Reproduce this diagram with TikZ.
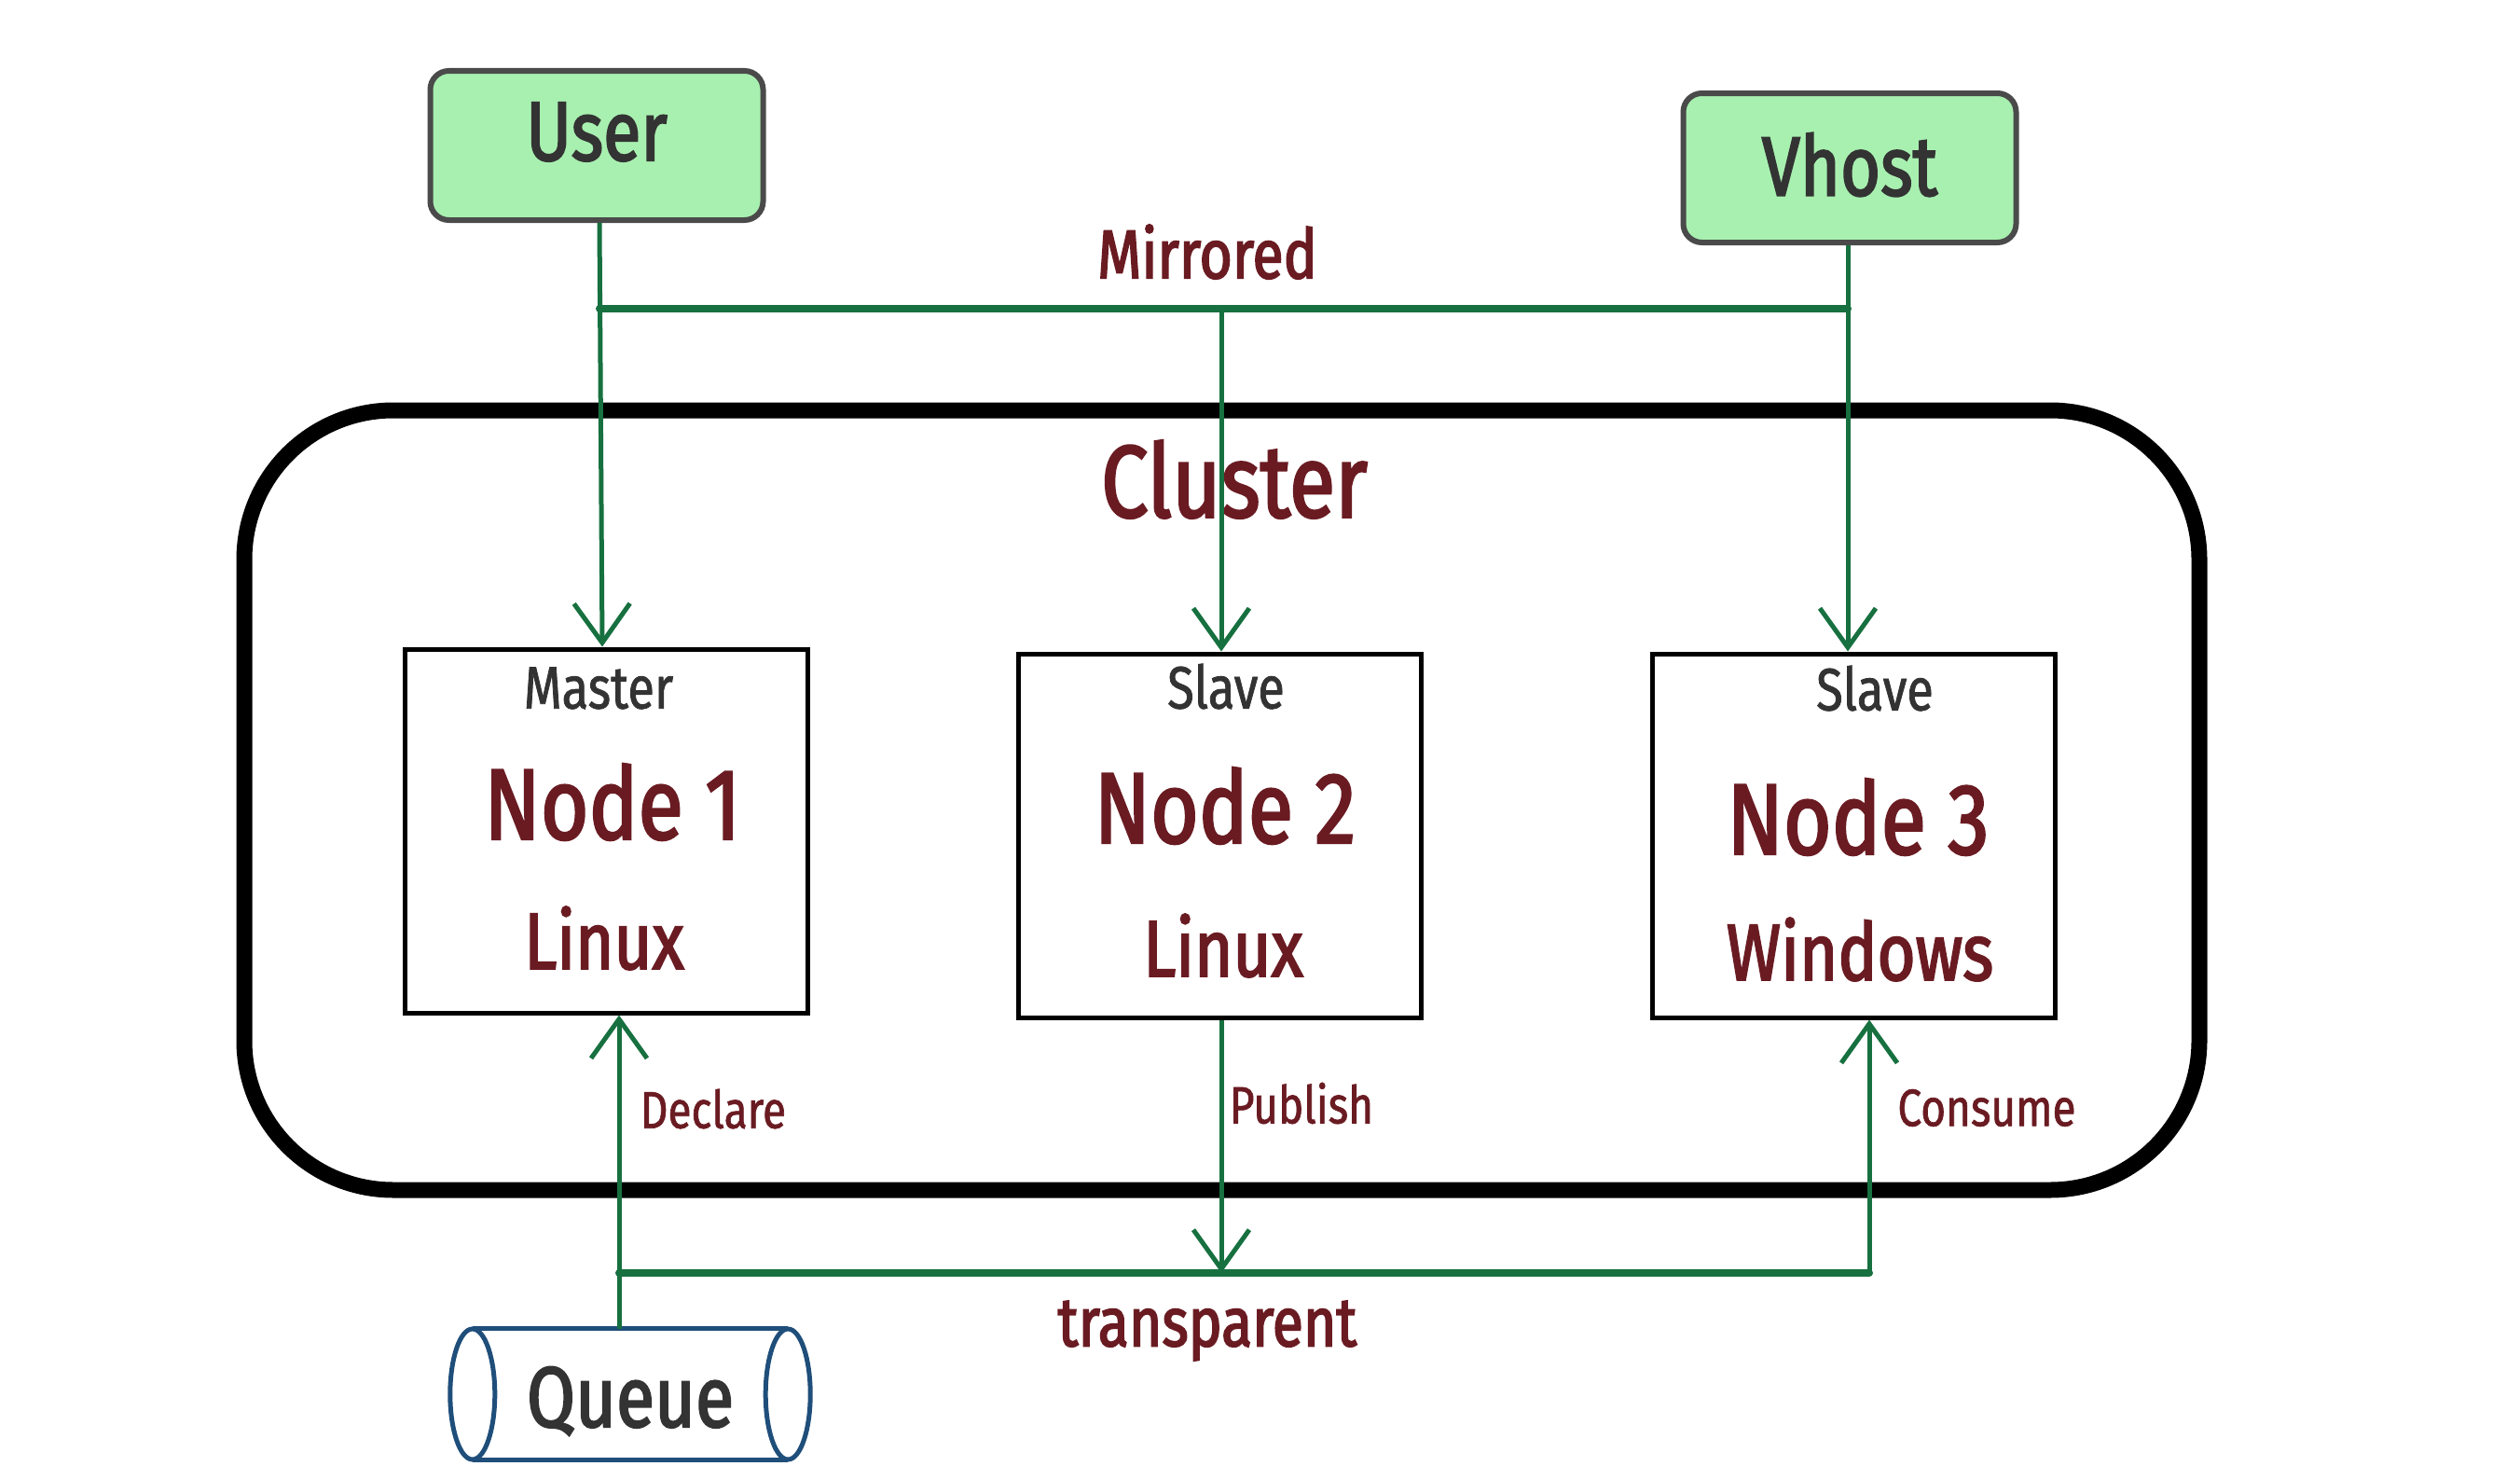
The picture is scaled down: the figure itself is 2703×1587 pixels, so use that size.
\documentclass[tikz,border=0pt]{standalone}
\usepackage{fontspec}
\setmainfont{Fira Sans}[FakeStretch=0.82]
\usetikzlibrary{arrows.meta}
\definecolor{dred}{HTML}{6A1B22}
\definecolor{lgreen}{HTML}{A8F0B0}
\definecolor{gline}{HTML}{17703F}
\definecolor{qblue}{HTML}{1F4E7A}
\definecolor{tgray}{HTML}{333333}
\definecolor{bgray}{HTML}{4A4A4A}
\newcommand{\heavy}{\addfontfeature{FakeBold=2.2}}
\newcommand{\medi}{\addfontfeature{FakeBold=1.2}}
\begin{document}
\begin{tikzpicture}[x=1pt,y=-1pt,
  greenbox/.style={draw=bgray, line width=6pt, fill=lgreen, rounded corners=20pt, minimum width=357pt, minimum height=160pt, inner sep=0pt, text=tgray, font=\fontsize{90pt}{100pt}\selectfont\heavy},
  nodebox/.style={draw=black, line width=5pt, fill=white, minimum width=432pt, minimum height=390pt, inner sep=0pt},
  rolet/.style={text=tgray, inner sep=0pt, font=\fontsize{64pt}{70pt}\selectfont\medi},
  namet/.style={text=dred, inner sep=0pt, font=\fontsize{108pt}{120pt}\selectfont\heavy},
  ost/.style={text=dred, inner sep=0pt, font=\fontsize{86pt}{96pt}\selectfont\heavy},
  lbl/.style={text=dred, inner sep=0pt, font=\fontsize{56pt}{62pt}\selectfont\medi},
  biglbl/.style={text=dred, inner sep=0pt, font=\fontsize{74pt}{82pt}\selectfont\heavy},
  link/.style={draw=gline, line width=5pt},
  bus/.style={draw=gline, line width=8pt, line cap=round},
  arr/.style={-{Straight Barb[length=42pt,width=60pt]}},
]
\useasboundingbox (0,0) rectangle (2703,1587);

% cluster
\draw[line width=17pt, rounded corners=160pt] (262,440) rectangle (2359,1276);
\node[text=dred, inner sep=0pt, font=\fontsize{110pt}{120pt}\selectfont\heavy] (cl) at (1324,514) {Cluster};

% top boxes
\node[greenbox, text depth=30pt] (user) at (640,156) {User};
\node[greenbox, text depth=8pt] (vhost) at (1984,180) {Vhost};

% cluster member boxes
\node[nodebox] (n1) at (650,891) {};
\node[nodebox] (n2) at (1308,896) {};
\node[nodebox] (n3) at (1988,896) {};

\node[rolet] (r1) at (642,738) {Master};
\node[namet] (t1) at (657,860) {Node 1};
\node[ost] (o1) at (648,1006) {Linux};

\node[rolet] (r2) at (1315,736) {Slave};
\node[namet] (t2) at (1314,864) {Node 2};
\node[ost] (o2) at (1312,1014) {Linux};

\node[rolet] (r3) at (2011,738) {Slave};
\node[namet] (t3) at (1993,876) {Node 3};
\node[ost] (o3) at (1995,1018) {Windows};

% mirrored bus
\coordinate (mL) at (643,331);
\coordinate (mM) at (1310,331);
\coordinate (mR) at (1982,331);
\draw[bus] (mL) -- (mR);
\node[biglbl] (mir) at (1295,270) {Mirrored};
\draw[link, arr] (user.south -| mL) -- ([xshift=-4pt]n1.north);
\draw[link, arr] (mM) -- (n2.north -| mM);
\draw[link, arr] (vhost.south -| mR) -- (n3.north -| mR);

% queue
\node[inner sep=0pt, minimum width=390pt, minimum height=140pt, text=tgray, font=\fontsize{92pt}{100pt}\selectfont\heavy, text depth=0pt, text height=70pt] (q) at (676,1495) {Queue};
\draw[qblue, line width=5pt] ([xshift=26pt]q.north west) -- ([xshift=-26pt]q.north east);
\draw[qblue, line width=5pt] ([xshift=26pt]q.south west) -- ([xshift=-26pt]q.south east);
\draw[qblue, line width=5pt] ([xshift=26pt]q.west) ellipse [x radius=24pt, y radius=70pt];
\draw[qblue, line width=5pt] ([xshift=-26pt]q.east) ellipse [x radius=24pt, y radius=70pt];

% transparent bus
\coordinate (tL) at (664,1365);
\coordinate (tM) at (1310,1365);
\coordinate (tR) at (2005,1365);
\draw[bus] (tL) -- (tR);
\node[biglbl] (tr) at (1295,1427) {transparent};

\draw[link, arr] (q.north -| tL) -- (n1.south -| tL);
\draw[link, arr] (n2.south -| tM) -- (tM);
\draw[link, arr] (tR) -- (n3.south -| tR);

\node[lbl] (dec) at (765,1189) {Declare};
\node[lbl] (pub) at (1396,1183) {Publish};
\node[lbl] (con) at (2131,1188) {Consume};
\end{tikzpicture}
\end{document}
